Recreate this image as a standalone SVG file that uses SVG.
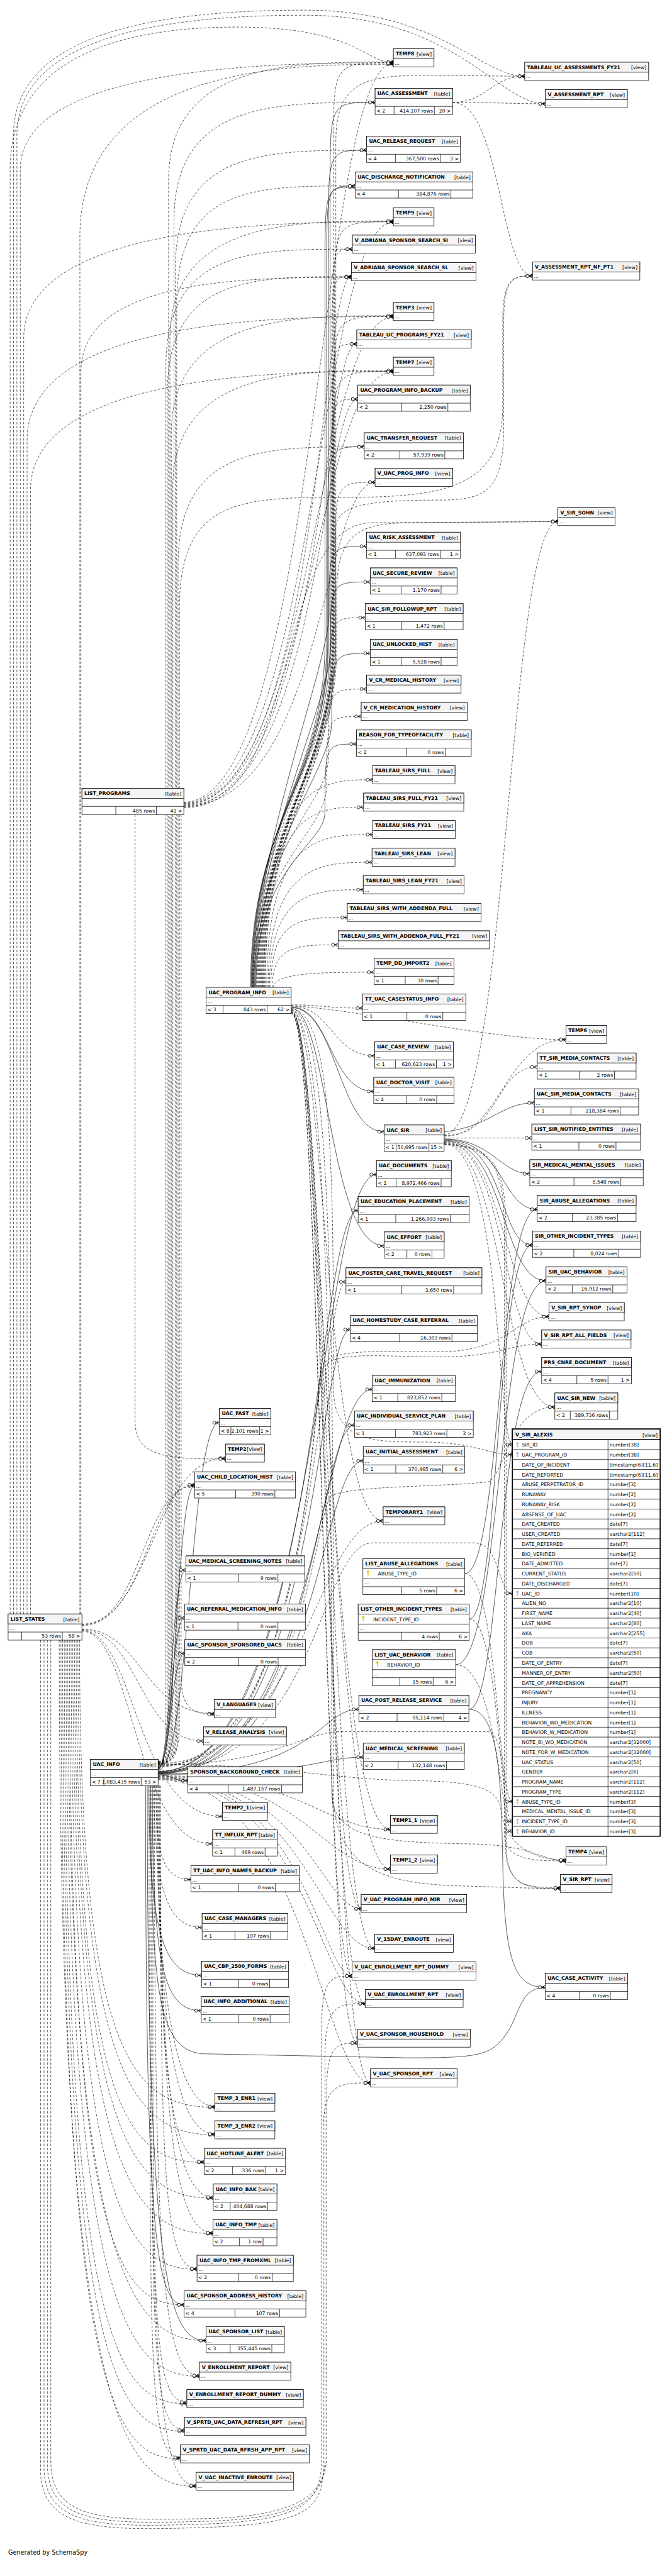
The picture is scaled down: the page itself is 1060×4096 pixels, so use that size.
<svg xmlns="http://www.w3.org/2000/svg" xmlns:xlink="http://www.w3.org/1999/xlink" width="1060" height="4096" viewBox="0 0 1060 4096">
<style>
.b{fill:#fff;stroke:#000;stroke-width:1.4}
.h{fill:#f4f4f4;stroke:#000;stroke-width:1.4}
.l{fill:none;stroke:#000;stroke-width:1.4}
.n{font-family:"DejaVu Sans",sans-serif;font-weight:bold;font-size:14.5px;fill:#000}
.t{font-family:"DejaVu Sans",sans-serif;font-size:14.5px;fill:#000}
.r{text-anchor:end}
.e{fill:none;stroke:#000;stroke-width:1.2;marker-end:url(#m)}
.d{stroke-dasharray:7 5}
</style>
<defs>
<marker id="m" viewBox="-24 -8 26 16" refX="0" refY="0" markerWidth="26" markerHeight="16" markerUnits="userSpaceOnUse" orient="auto">
<path d="M-10 0L0-5.5M-10 0H0M-10 0L0 5.5" fill="none" stroke="#000" stroke-width="1.5"/>
<circle cx="-15" cy="0" r="4.5" fill="#fff" stroke="#000" stroke-width="1.5"/>
</marker>
<g id="ky"><circle cx="0" cy="-4" r="3.6" stroke="none"/><path d="M0-1V8M0 4H3M0 7H2.5" fill="none" stroke-width="2"/></g>
</defs>
<rect width="1060" height="4096" fill="#fff"/>
<g transform="scale(0.538)">
<g id="connectors">
<path class="e" d="M740 2918C740 2400 975 2300 975 1900L975 552.5C975 302.5 975 302.5 1108 302.5"/>
<path class="e" d="M742 2918C742 2400 970 2300 970 1900L970 694C970 444 970 444 1083 444"/>
<path class="e" d="M744 2918C744 2400 965 2300 965 1900L965 799.5C965 549.5 965 549.5 1049 549.5"/>
<path class="e" d="M746 2918C746 2400 960 2300 960 1900L960 803C960 553 960 553 1049 553"/>
<path class="e" d="M748 2918C748 2400 968 2300 968 1900L968 1570.5C968 1320.5 968 1320.5 1076 1320.5"/>
<path class="e" d="M750 2918C750 2500 972 1964.5 972 1814.5C972 1614.5 972 1614.5 1083 1614.5"/>
<path class="e" d="M752 2918C752 2500 976 2070 976 1920C976 1720 976 1720 1094 1720"/>
<path class="e" d="M754 2918C754 2500 980 2281 980 2131C980 1931 980 1931 1094 1931"/>
<path class="e" d="M756 2918C756 2550 960 2500 960 2400C960 2199 960 2199 1053 2199"/>
<path class="e d" d="M758 2918C758 2400 985 2300 985 1900L985 435.5C985 185.5 985 185.5 1162 185.5"/>
<path class="e d" d="M760 2918C760 2400 992 2300 992 1900L992 420C992 222 1100 222 1300 223L1550 225.5"/>
<path class="e d" d="M762 2918C762 2400 988 2300 988 1900L988 905.5C988 655.5 988 655.5 1162 655.5"/>
<path class="e d" d="M764 2918C764 2400 983 2300 983 1900L983 986.5C983 736.5 983 736.5 1041 736.5"/>
<path class="e d" d="M766 2918C766 2400 980 2300 980 1900L980 1067.5C980 817.5 980 817.5 1038 817.5"/>
<path class="e d" d="M768 2918C768 2400 986 2300 986 1900L986 1185.5C986 935.5 986 935.5 1162 935.5"/>
<path class="e d" d="M770 2918C770 2400 982 2300 982 1900L982 1266.5C982 1016.5 982 1016.5 1054 1016.5"/>
<path class="e d" d="M772 2918C772 2400 984 2300 984 1900L984 1347.5C984 1097.5 984 1097.5 1162 1097.5"/>
<path class="e d" d="M774 2918C774 2400 978 2300 978 1900L978 1429.5C978 1179.5 978 1179.5 1057 1179.5"/>
<path class="e d" d="M776 2918C776 2400 990 2300 990 1900L990 1675.5C990 1425.5 990 1425.5 1108 1425.5"/>
<path class="e d" d="M778 2918C778 2400 995 2300 995 1900L995 1745C995 1545 1100 1545 1250 1545L1648 1541.5"/>
<path class="e d" d="M745 2918C745 2500 975 2175.5 975 2025.5C975 1825.5 975 1825.5 1079 1825.5"/>
<path class="e d" d="M747 2918C747 2500 970 2386.5 970 2236.5C970 2036.5 970 2036.5 1083 2036.5"/>
<path class="e d" d="M749 2918C749 2550 965 2467.5 965 2317.5C965 2117.5 965 2117.5 1067 2117.5"/>
<path class="e d" d="M780 2918C780 2304.5 950 2304.5 1101 2304.5"/>
<path class="e d" d="M784 2918C784 2385.5 930 2385.5 1074 2385.5"/>
<path class="e d" d="M788 2918C788 2466.5 950 2466.5 1101 2466.5"/>
<path class="e d" d="M792 2918C792 2548.5 950 2548.5 1099 2548.5"/>
<path class="e d" d="M796 2918C796 2629.5 930 2629.5 1073 2629.5"/>
<path class="e d" d="M800 2918C800 2711.5 890 2711.5 1026 2711.5"/>
<path class="e d" d="M804 2918C804 2792.5 880 2792.5 999 2792.5"/>
<path class="e d" d="M808 2918C808 2873.5 960 2873.5 1105 2873.5"/>
<path class="e d" d="M782 2918C782 2400 992 2300 992 1900L992 1560C992 1490 1100 1478 1300 1478C1450 1478 1488 1440 1488 1250L1488 950C1488 815.5 1520 815.5 1573 815.5"/>
<path class="e d" d="M1337 302.5C1460 302.5 1500 306.5 1611 306.5"/>
<path class="e d" d="M1337 302.5C1440 302.5 1450 225.5 1550 225.5"/>
<path class="e d" d="M1337 302.5C1480 302.5 1478 815.5 1573 815.5"/>
<path class="e d" d="M40 4770L40 400C40 120 400 30 900 30C1300 30 1420 225.5 1550 225.5"/>
<path class="e d" d="M50 4770L50 400C50 130 420 45 900 45C1350 45 1470 306.5 1611 306.5"/>
<path class="e d" d="M30 4770L30 500C30 200 300 80 700 80C1050 80 1080 185.5 1162 185.5"/>
<path class="e d" d="M860 2970C960 2970 960 2979.5 1071 2979.5"/>
<path class="e d" d="M860 2972C1100 2990 1450 3072.5 1672 3072.5"/>
<path class="e d" d="M860 2974C980 2974 980 3120.5 1107 3120.5"/>
<path class="e" d="M860 2976C975 2976 975 3225.5 1104 3225.5"/>
<path class="e" d="M860 2978C995 2978 1000 3345 1135 3345"/>
<path class="e" d="M860 2980C970 2980 970 3682.5 1135 3682.5"/>
<path class="e d" d="M860 2982C985 2982 985 3500 985 4100C985 4262 1100 4262 1250 4262C1400 4262 1440 4299 1513.5 4299"/>
<path class="e d" d="M860 2984C960 2984 960 4495 1132 4495"/>
<path class="e d" d="M860 2986C958 2986 958 5406.5 1153.5 5406.5"/>
<path class="e d" d="M860 2988C962 2988 962 5524 1153.5 5524"/>
<path class="e d" d="M860 2990C955 2990 955 5641 1067 5641"/>
<path class="e d" d="M860 2991C965 2991 965 5758.5 1107 5758.5"/>
<path class="e d" d="M860 2992C950 2992 950 5840 1040 5840"/>
<path class="e d" d="M860 2993C960 2993 960 5921.5 1079 5921.5"/>
<path class="e d" d="M860 2994C952 2994 952 6038.5 1056 6038.5"/>
<path class="e d" d="M860 2995C968 2995 968 6156 1094.5 6156"/>
<path class="e d" d="M860 2985C985 2985 985 4000 985 5300C985 5560 1200 5570 1400 5575C1550 5580 1600 5581.5 1655.5 5581.5"/>
<path class="e d" d="M860 2987C980 2987 980 4500 980 5300C980 5440 1150 5445 1400 5450C1580 5455 1600 5500 1672 5500"/>
<path class="e d" d="M1312 3356C1480 3356 1460 3153.5 1587 3153.5"/>
<path class="e" d="M1312 3345C1450 3330 1480 3259.5 1578.5 3259.5"/>
<path class="e d" d="M1312 3363.5L1571 3363.5"/>
<path class="e" d="M1312 3366C1450 3366 1480 3469 1565 3469"/>
<path class="e" d="M1312 3368C1490 3368 1480 3574.5 1587 3574.5"/>
<path class="e" d="M1312 3370C1500 3370 1470 3680 1573 3680"/>
<path class="e" d="M1312 3372C1495 3372 1480 3785.5 1613 3785.5"/>
<path class="e d" d="M1312 3374C1490 3374 1490 3891.5 1621.5 3891.5"/>
<path class="e d" d="M1312 3376C1495 3376 1485 3972.5 1600 3972.5"/>
<path class="e d" d="M1312 3378C1490 3378 1480 4158.5 1639 4158.5"/>
<path class="e d" d="M1312 3380C1480 3380 1470 4269.6 1513.5 4269.6"/>
<path class="e d" d="M1312 3358C1480 3358 1490 3072.5 1672 3072.5"/>
<path class="e d" d="M1312 3354C1500 3354 1500 1541.5 1648 1541.5"/>
<path class="e d" d="M1312 3382C1495 3382 1495 3500 1495 3700L1495 5450C1495 5581.5 1560 5581.5 1655.5 5581.5"/>
<path class="e d" d="M1312 3384C1490 3384 1490 3500 1490 3700L1490 5420C1490 5500 1580 5500 1672 5500"/>
<path class="e" d="M1373 4651C1480 4651 1470 3574.5 1587 3574.5"/>
<path class="e d" d="M1373 4651C1470 4651 1470 5324.5 1513.5 5324.5"/>
<path class="e" d="M1386 4785C1475 4785 1465 3680 1573 3680"/>
<path class="e d" d="M1386 4785C1475 4785 1475 5383 1513.5 5383"/>
<path class="e" d="M1346 4920C1480 4920 1470 3785.5 1613 3785.5"/>
<path class="e d" d="M1346 4920C1470 4920 1480 5412.4 1513.5 5412.4"/>
<path class="e" d="M1385 5051.5C1480 5051.5 1470 4053.5 1600 4053.5"/>
<path class="e" d="M1385 5051.5C1480 5051.5 1480 5300 1485 5500C1490 5800 1520 5873.5 1610.5 5873.5"/>
<path class="e" d="M467 5236C940 5236 940 3471.5 1112 3471.5"/>
<path class="e" d="M467 5237C935 5237 935 3577.5 1058 3577.5"/>
<path class="e d" d="M467 5238C945 5238 945 3788.5 1022 3788.5"/>
<path class="e" d="M467 5239C938 5239 938 3929.5 1035 3929.5"/>
<path class="e" d="M467 5240C942 5240 942 4106.5 1099.5 4106.5"/>
<path class="e" d="M467 5241C936 5241 936 4212 1047 4212"/>
<path class="e" d="M467 5242C944 5242 944 4317.5 1073 4317.5"/>
<path class="e" d="M467 5243C940 5243 940 5052 1060 5052"/>
<path class="e" d="M467 5244C938 5244 938 5193.5 1073 5193.5"/>
<path class="e d" d="M467 5234C940 5234 940 4560 1100 4560L1400 4560C1480 4560 1470 4709 1513.5 4709"/>
<path class="e" d="M467 5232C560 5232 560 4204.5 648 4204.5"/>
<path class="e" d="M467 5230C520 5230 520 4391.5 575 4391.5"/>
<path class="e" d="M467 5228C505 5228 505 4640 549 4640"/>
<path class="e" d="M467 5226C505 5226 505 4782 545 4782"/>
<path class="e" d="M467 5224C505 5224 505 4887 546 4887"/>
<path class="e" d="M467 5246C510 5246 510 5263 555 5263"/>
<path class="e" d="M440 5277.5C440 5700 480 5838 596 5838"/>
<path class="e" d="M450 5277.5C450 5800 480 5942.5 594.5 5942.5"/>
<path class="e" d="M430 5277.5C430 6600 460 6812 544 6812"/>
<path class="e" d="M435 5277.5C435 6750 500 6917.5 608.5 6917.5"/>
<path class="e" d="M445 5277.5C445 5900 470 6060 600 6070L1200 6082C1350 6082 1420 6080 1460 6050C1540 5990 1520 5873.5 1610.5 5873.5"/>
<path class="e d" d="M455 5277.5C455 5600 500 5696.5 597 5696.5"/>
<path class="e d" d="M460 5277.5C460 5480 480 5555 564 5555"/>
<path class="e d" d="M242 4800C450 4800 450 4309.5 666 4309.5"/>
<path class="e d" d="M242 4802C420 4802 420 4391.5 575 4391.5"/>
<path class="e d" d="M242 4804C430 4804 440 4388 575 4388"/>
<path class="e d" d="M242 4815C420 4815 420 5064.5 633 5064.5"/>
<path class="e d" d="M242 4817C410 4817 410 5145.5 601 5145.5"/>
<path class="e d" d="M242 4819C400 4819 400 5368.5 657 5368.5"/>
<path class="e d" d="M242 4821C395 4821 395 5449.5 628 5449.5"/>
<path class="e d" d="M235 4847.5C235 6100 400 6228 635 6228"/>
<path class="e d" d="M230 4847.5C230 6150 400 6309.5 635 6309.5"/>
<path class="e d" d="M225 4847.5C225 6250 380 6391 603 6391"/>
<path class="e d" d="M220 4847.5C220 6350 400 6496.5 630 6496.5"/>
<path class="e d" d="M215 4847.5C215 6450 400 6601.5 629 6601.5"/>
<path class="e d" d="M210 4847.5C210 6550 380 6707 582 6707"/>
<path class="e d" d="M205 4847.5C205 6650 350 6812 544 6812"/>
<path class="e d" d="M200 4847.5C200 6750 400 6917.5 608.5 6917.5"/>
<path class="e d" d="M195 4847.5C195 6850 380 7023 589 7023"/>
<path class="e d" d="M190 4847.5C190 6950 350 7104 552 7104"/>
<path class="e d" d="M185 4847.5C185 7030 350 7185.5 545 7185.5"/>
<path class="e d" d="M180 4847.5C180 7110 340 7267 533 7267"/>
<path class="e d" d="M175 4847.5C175 7190 380 7348.5 579.5 7348.5"/>
<path class="e d" d="M462 5277.5C462 5900 520 6226 635 6226"/>
<path class="e d" d="M465 5277.5C465 6000 520 6307 635 6307"/>
<path class="e d" d="M468 5277.5C468 6100 500 6389 603 6389"/>
<path class="e d" d="M470 5277.5C470 6200 520 6494 630 6494"/>
<path class="e d" d="M472 5277.5C472 6300 520 6599 629 6599"/>
<path class="e d" d="M474 5277.5C474 6400 480 6705 582 6705"/>
<path class="e d" d="M456 5277.5C456 6700 480 7021 589 7021"/>
<path class="e d" d="M452 5277.5C452 6800 440 7100 552 7100"/>
<path class="e d" d="M448 5277.5C448 6900 440 7182 545 7182"/>
<path class="e d" d="M444 5277.5C444 6950 430 7263 533 7263"/>
<path class="e d" d="M440 5277.5C440 7050 470 7346 579.5 7346"/>
<path class="e d" d="M120 4847.5L120 7300C120 7480 300 7480 600 7470C900 7460 950 7420 955 7300L955 6300C955 6156 1000 6156 1094.5 6156"/>
<path class="e d" d="M130 4847.5L130 7290C130 7470 300 7470 600 7460C890 7450 945 7400 950 7280L950 6000C950 5840 980 5840 1040 5840"/>
<path class="e d" d="M140 4847.5L140 7280C140 7460 300 7460 600 7452C880 7444 958 7390 960 7270L960 6080C960 5921.5 1000 5921.5 1079 5921.5"/>
<path class="e d" d="M150 4847.5L150 7270C150 7450 300 7450 600 7444C870 7438 962 7380 965 7260L965 6180C965 6038.5 1000 6038.5 1056 6038.5"/>
<path class="e d" d="M60 4770L60 500C60 185.5 862 185.5 1162 185.5"/>
<path class="e d" d="M70 4770L70 1000C70 655.5 862 655.5 1162 655.5"/>
<path class="e d" d="M80 4770L80 1300C80 935.5 862 935.5 1162 935.5"/>
<path class="e d" d="M90 4770L90 1450C90 1097.5 862 1097.5 1162 1097.5"/>
<path class="e d" d="M236 4770L236 700C236 190 862 190 1162 190"/>
<path class="e d" d="M239 4770L239 1100C239 820 738 820 1038 820"/>
<path class="e d" d="M467 5205C500 5205 490 5180 490 5100L490 1086.5C490 736.5 741 736.5 1041 736.5"/>
<path class="e d" d="M467 5206C500 5206 494 5180 494 5100L494 1167.5C494 817.5 738 817.5 1038 817.5"/>
<path class="e d" d="M467 5207C505 5207 498 5180 498 5100L498 533C498 183 862 183 1162 183"/>
<path class="e d" d="M467 5208C505 5208 502 5180 502 5100L502 1003C502 653 862 653 1162 653"/>
<path class="e d" d="M467 5209C505 5209 506 5180 506 5100L506 1283C506 933 862 933 1162 933"/>
<path class="e d" d="M467 5210C510 5210 510 5180 510 5100L510 1445C510 1095 862 1095 1162 1095"/>
<path class="e d" d="M467 5211C510 5211 514 5180 514 5100L514 652.5C514 302.5 808 302.5 1108 302.5"/>
<path class="e d" d="M467 5212C515 5212 518 5180 518 5100L518 794C518 444 783 444 1083 444"/>
<path class="e d" d="M467 5213C515 5213 522 5180 522 5100L522 899.5C522 549.5 749 549.5 1049 549.5"/>
<path class="e d" d="M467 5214C520 5214 526 5180 526 5100L526 1670.5C526 1320.5 776 1320.5 1076 1320.5"/>
<path class="e d" d="M467 5215C505 5215 530 5180 530 5100L530 1800C530 1480 700 1470 1000 1470C1300 1470 1485 1450 1485 1200L1485 950C1485 815.5 1520 815.5 1573 815.5"/>
<path class="e d" d="M399 2407.5L399 4200C399 4309.5 500 4312 666 4312"/>
<path class="e d" d="M535 2407.5L535 4950C535 5040 560 5067 633 5067"/>
<path class="e d" d="M543 2371C940 2371 940 187 1162 187"/>
<path class="e d" d="M543 2373C935 2373 935 657 1162 657"/>
<path class="e d" d="M543 2375C930 2375 930 937 1162 937"/>
<path class="e d" d="M543 2377C925 2377 925 1099 1162 1099"/>
<path class="e d" d="M543 2379C945 2379 945 819 1038 819"/>
<path class="e d" d="M543 2381C950 2381 950 1179.5 1057 1179.5"/>
<path class="e d" d="M543 2383C955 2383 955 1425.5 1108 1425.5"/>
<path class="e d" d="M543 2385C950 2385 950 1016.5 1054 1016.5"/>
<path class="e d" d="M543 2387C900 2387 800 1545 1100 1545L1648 1541.5"/>
<path class="e d" d="M467 5222C900 5222 930 4100 950 4050C980 3990 1100 4010 1300 4010C1480 4010 1500 3972.5 1600 3972.5"/>
<path class="e d" d="M467 5220C900 5220 930 4090 950 4040C975 3985 1100 3995 1300 3995C1500 3995 1520 3891.5 1621.5 3891.5"/>
<path class="e d" d="M467 5218C900 5218 930 4450 980 4420C1050 4390 1300 4395 1440 4380C1490 4370 1500 4158.5 1639 4158.5"/>
<path class="e d" d="M467 5216C800 5216 900 5120 1000 5118L1440 5118C1490 5118 1493 5300 1493 5450C1493 5579 1560 5579 1655.5 5579"/>
<path class="e d" d="M467 5214C800 5214 1000 5260 1200 5262C1400 5265 1470 5280 1480 5350C1490 5440 1560 5497 1672 5497"/>
<path class="e d" d="M467 5248C900 5248 950 5406.5 1153.5 5406.5"/>
<path class="e d" d="M467 5250C900 5250 950 5524 1153.5 5524"/>
<path class="e d" d="M467 5212C900 5212 930 4495 1132 4495"/>
<path class="e d" d="M467 5252C900 5252 950 5641 1067 5641"/>
<path class="e d" d="M467 5254C900 5254 950 5758.5 1107 5758.5"/>
<path class="e d" d="M467 5256C900 5256 950 5840 1040 5840"/>
<path class="e d" d="M467 5258C900 5258 950 5921.5 1079 5921.5"/>
<path class="e d" d="M467 5260C900 5260 955 6156 1094.5 6156"/>
</g>
<g id="nodes">
<g id="TEMP8" transform="translate(1162,144)"><rect class="b" width="120" height="53.5"/><rect class="h" width="120" height="29.5"/><text class="n" x="7" y="20">TEMP8</text><text class="t r" x="113" y="21">[view]</text><text class="t" x="4" y="47">...</text></g>
<g id="TABLEAU_UC_ASSESSMENTS_FY21" transform="translate(1550,184)"><rect class="b" width="366" height="53.5"/><rect class="h" width="366" height="29.5"/><text class="n" x="7" y="20">TABLEAU_UC_ASSESSMENTS_FY21</text><text class="t r" x="359" y="21">[view]</text><text class="t" x="4" y="47">...</text></g>
<g id="UAC_ASSESSMENT" transform="translate(1108,261)"><rect class="b" width="229" height="77.5"/><rect class="h" width="229" height="29.5"/><path class="l" d="M0 53.5H229M56 53.5V77.5M175 53.5V77.5"/><text class="n" x="7" y="20">UAC_ASSESSMENT</text><text class="t r" x="222" y="21">[table]</text><text class="t" x="4" y="47">...</text><text class="t" x="4" y="71">&lt; 2</text><text class="t r" x="171" y="71">414,107 rows</text><text class="t r" x="224" y="71">20 &gt;</text></g>
<g id="V_ASSESSMENT_RPT" transform="translate(1611,265)"><rect class="b" width="242" height="53.5"/><rect class="h" width="242" height="29.5"/><text class="n" x="7" y="20">V_ASSESSMENT_RPT</text><text class="t r" x="235" y="21">[view]</text><text class="t" x="4" y="47">...</text></g>
<g id="UAC_RELEASE_REQUEST" transform="translate(1083,402.5)"><rect class="b" width="277" height="77.5"/><rect class="h" width="277" height="29.5"/><path class="l" d="M0 53.5H277M85 53.5V77.5M218 53.5V77.5"/><text class="n" x="7" y="20">UAC_RELEASE_REQUEST</text><text class="t r" x="270" y="21">[table]</text><text class="t" x="4" y="47">...</text><text class="t" x="4" y="71">&lt; 4</text><text class="t r" x="214" y="71">367,500 rows</text><text class="t r" x="272" y="71">3 &gt;</text></g>
<g id="UAC_DISCHARGE_NOTIFICATION" transform="translate(1049,508)"><rect class="b" width="348" height="77.5"/><rect class="h" width="348" height="29.5"/><path class="l" d="M0 53.5H348M128 53.5V77.5M283 53.5V77.5"/><text class="n" x="7" y="20">UAC_DISCHARGE_NOTIFICATION</text><text class="t r" x="341" y="21">[table]</text><text class="t" x="4" y="47">...</text><text class="t" x="4" y="71">&lt; 4</text><text class="t r" x="279" y="71">384,876 rows</text></g>
<g id="TEMP9" transform="translate(1162,614)"><rect class="b" width="120" height="53.5"/><rect class="h" width="120" height="29.5"/><text class="n" x="7" y="20">TEMP9</text><text class="t r" x="113" y="21">[view]</text><text class="t" x="4" y="47">...</text></g>
<g id="V_ADRIANA_SPONSOR_SEARCH_SI" transform="translate(1041,695)"><rect class="b" width="363" height="53.5"/><rect class="h" width="363" height="29.5"/><text class="n" x="7" y="20">V_ADRIANA_SPONSOR_SEARCH_SI</text><text class="t r" x="356" y="21">[view]</text><text class="t" x="4" y="47">...</text></g>
<g id="V_ADRIANA_SPONSOR_SEARCH_SL" transform="translate(1038,776)"><rect class="b" width="368" height="53.5"/><rect class="h" width="368" height="29.5"/><text class="n" x="7" y="20">V_ADRIANA_SPONSOR_SEARCH_SL</text><text class="t r" x="361" y="21">[view]</text><text class="t" x="4" y="47">...</text></g>
<g id="V_ASSESSMENT_RPT_NF_PT1" transform="translate(1573,774)"><rect class="b" width="317" height="53.5"/><rect class="h" width="317" height="29.5"/><text class="n" x="7" y="20">V_ASSESSMENT_RPT_NF_PT1</text><text class="t r" x="310" y="21">[view]</text><text class="t" x="4" y="47">...</text></g>
<g id="TEMP3" transform="translate(1162,894)"><rect class="b" width="120" height="53.5"/><rect class="h" width="120" height="29.5"/><text class="n" x="7" y="20">TEMP3</text><text class="t r" x="113" y="21">[view]</text><text class="t" x="4" y="47">...</text></g>
<g id="TABLEAU_UC_PROGRAMS_FY21" transform="translate(1054,975)"><rect class="b" width="338" height="53.5"/><rect class="h" width="338" height="29.5"/><text class="n" x="7" y="20">TABLEAU_UC_PROGRAMS_FY21</text><text class="t r" x="331" y="21">[view]</text><text class="t" x="4" y="47">...</text></g>
<g id="TEMP7" transform="translate(1162,1056)"><rect class="b" width="120" height="53.5"/><rect class="h" width="120" height="29.5"/><text class="n" x="7" y="20">TEMP7</text><text class="t r" x="113" y="21">[view]</text><text class="t" x="4" y="47">...</text></g>
<g id="UAC_PROGRAM_INFO_BACKUP" transform="translate(1057,1138)"><rect class="b" width="332" height="77.5"/><rect class="h" width="332" height="29.5"/><path class="l" d="M0 53.5H332M130 53.5V77.5M266 53.5V77.5"/><text class="n" x="7" y="20">UAC_PROGRAM_INFO_BACKUP</text><text class="t r" x="325" y="21">[table]</text><text class="t" x="4" y="47">...</text><text class="t" x="4" y="71">&lt; 2</text><text class="t r" x="262" y="71">2,250 rows</text></g>
<g id="UAC_TRANSFER_REQUEST" transform="translate(1076,1279)"><rect class="b" width="293" height="77.5"/><rect class="h" width="293" height="29.5"/><path class="l" d="M0 53.5H293M105 53.5V77.5M238 53.5V77.5"/><text class="n" x="7" y="20">UAC_TRANSFER_REQUEST</text><text class="t r" x="286" y="21">[table]</text><text class="t" x="4" y="47">...</text><text class="t" x="4" y="71">&lt; 2</text><text class="t r" x="234" y="71">57,939 rows</text></g>
<g id="V_UAC_PROG_INFO" transform="translate(1108,1384)"><rect class="b" width="229" height="53.5"/><rect class="h" width="229" height="29.5"/><text class="n" x="7" y="20">V_UAC_PROG_INFO</text><text class="t r" x="222" y="21">[view]</text><text class="t" x="4" y="47">...</text></g>
<g id="V_SIR_SOHN" transform="translate(1648,1500)"><rect class="b" width="169" height="53.5"/><rect class="h" width="169" height="29.5"/><text class="n" x="7" y="20">V_SIR_SOHN</text><text class="t r" x="162" y="21">[view]</text><text class="t" x="4" y="47">...</text></g>
<g id="UAC_RISK_ASSESSMENT" transform="translate(1083,1573)"><rect class="b" width="277" height="77.5"/><rect class="h" width="277" height="29.5"/><path class="l" d="M0 53.5H277M85 53.5V77.5M218 53.5V77.5"/><text class="n" x="7" y="20">UAC_RISK_ASSESSMENT</text><text class="t r" x="270" y="21">[table]</text><text class="t" x="4" y="47">...</text><text class="t" x="4" y="71">&lt; 1</text><text class="t r" x="214" y="71">637,093 rows</text><text class="t r" x="272" y="71">1 &gt;</text></g>
<g id="UAC_SECURE_REVIEW" transform="translate(1094,1678.5)"><rect class="b" width="256" height="77.5"/><rect class="h" width="256" height="29.5"/><path class="l" d="M0 53.5H256M91 53.5V77.5M209 53.5V77.5"/><text class="n" x="7" y="20">UAC_SECURE_REVIEW</text><text class="t r" x="249" y="21">[table]</text><text class="t" x="4" y="47">...</text><text class="t" x="4" y="71">&lt; 1</text><text class="t r" x="205" y="71">1,170 rows</text></g>
<g id="UAC_SIR_FOLLOWUP_RPT" transform="translate(1079,1784)"><rect class="b" width="289" height="77.5"/><rect class="h" width="289" height="29.5"/><path class="l" d="M0 53.5H289M108 53.5V77.5M233 53.5V77.5"/><text class="n" x="7" y="20">UAC_SIR_FOLLOWUP_RPT</text><text class="t r" x="282" y="21">[table]</text><text class="t" x="4" y="47">...</text><text class="t" x="4" y="71">&lt; 1</text><text class="t r" x="229" y="71">1,472 rows</text></g>
<g id="UAC_UNLOCKED_HIST" transform="translate(1094,1889.5)"><rect class="b" width="256" height="77.5"/><rect class="h" width="256" height="29.5"/><path class="l" d="M0 53.5H256M91 53.5V77.5M209 53.5V77.5"/><text class="n" x="7" y="20">UAC_UNLOCKED_HIST</text><text class="t r" x="249" y="21">[table]</text><text class="t" x="4" y="47">...</text><text class="t" x="4" y="71">&lt; 1</text><text class="t r" x="205" y="71">5,528 rows</text></g>
<g id="V_CR_MEDICAL_HISTORY" transform="translate(1083,1995)"><rect class="b" width="279" height="53.5"/><rect class="h" width="279" height="29.5"/><text class="n" x="7" y="20">V_CR_MEDICAL_HISTORY</text><text class="t r" x="272" y="21">[view]</text><text class="t" x="4" y="47">...</text></g>
<g id="V_CR_MEDICATION_HISTORY" transform="translate(1067,2076)"><rect class="b" width="313" height="53.5"/><rect class="h" width="313" height="29.5"/><text class="n" x="7" y="20">V_CR_MEDICATION_HISTORY</text><text class="t r" x="306" y="21">[view]</text><text class="t" x="4" y="47">...</text></g>
<g id="REASON_FOR_TYPEOFFACILITY" transform="translate(1053,2157.5)"><rect class="b" width="339" height="77.5"/><rect class="h" width="339" height="29.5"/><path class="l" d="M0 53.5H339M148 53.5V77.5M262 53.5V77.5"/><text class="n" x="7" y="20">REASON_FOR_TYPEOFFACILITY</text><text class="t r" x="332" y="21">[table]</text><text class="t" x="4" y="47">...</text><text class="t" x="4" y="71">&lt; 2</text><text class="t r" x="258" y="71">0 rows</text></g>
<g id="TABLEAU_SIRS_FULL" transform="translate(1101,2263)"><rect class="b" width="243" height="53.5"/><rect class="h" width="243" height="29.5"/><text class="n" x="7" y="20">TABLEAU_SIRS_FULL</text><text class="t r" x="236" y="21">[view]</text><text class="t" x="4" y="47">...</text></g>
<g id="TABLEAU_SIRS_FULL_FY21" transform="translate(1074,2344)"><rect class="b" width="296" height="53.5"/><rect class="h" width="296" height="29.5"/><text class="n" x="7" y="20">TABLEAU_SIRS_FULL_FY21</text><text class="t r" x="289" y="21">[view]</text><text class="t" x="4" y="47">...</text></g>
<g id="TABLEAU_SIRS_FY21" transform="translate(1101,2425)"><rect class="b" width="244" height="53.5"/><rect class="h" width="244" height="29.5"/><text class="n" x="7" y="20">TABLEAU_SIRS_FY21</text><text class="t r" x="237" y="21">[view]</text><text class="t" x="4" y="47">...</text></g>
<g id="TABLEAU_SIRS_LEAN" transform="translate(1099,2507)"><rect class="b" width="245" height="53.5"/><rect class="h" width="245" height="29.5"/><text class="n" x="7" y="20">TABLEAU_SIRS_LEAN</text><text class="t r" x="238" y="21">[view]</text><text class="t" x="4" y="47">...</text></g>
<g id="TABLEAU_SIRS_LEAN_FY21" transform="translate(1073,2588)"><rect class="b" width="298" height="53.5"/><rect class="h" width="298" height="29.5"/><text class="n" x="7" y="20">TABLEAU_SIRS_LEAN_FY21</text><text class="t r" x="291" y="21">[view]</text><text class="t" x="4" y="47">...</text></g>
<g id="TABLEAU_SIRS_WITH_ADDENDA_FULL" transform="translate(1026,2670)"><rect class="b" width="395" height="53.5"/><rect class="h" width="395" height="29.5"/><text class="n" x="7" y="20">TABLEAU_SIRS_WITH_ADDENDA_FULL</text><text class="t r" x="388" y="21">[view]</text><text class="t" x="4" y="47">...</text></g>
<g id="TABLEAU_SIRS_WITH_ADDENDA_FULL_FY21" transform="translate(999,2751)"><rect class="b" width="447" height="53.5"/><rect class="h" width="447" height="29.5"/><text class="n" x="7" y="20">TABLEAU_SIRS_WITH_ADDENDA_FULL_FY21</text><text class="t r" x="440" y="21">[view]</text><text class="t" x="4" y="47">...</text></g>
<g id="TEMP_DD_IMPORT2" transform="translate(1105,2832)"><rect class="b" width="236" height="77.5"/><rect class="h" width="236" height="29.5"/><path class="l" d="M0 53.5H236M92 53.5V77.5M189 53.5V77.5"/><text class="n" x="7" y="20">TEMP_DD_IMPORT2</text><text class="t r" x="229" y="21">[table]</text><text class="t" x="4" y="47">...</text><text class="t" x="4" y="71">&lt; 1</text><text class="t r" x="185" y="71">30 rows</text></g>
<g id="TT_UAC_CASESTATUS_INFO" transform="translate(1071,2938)"><rect class="b" width="305" height="77.5"/><rect class="h" width="305" height="29.5"/><path class="l" d="M0 53.5H305M131 53.5V77.5M237 53.5V77.5"/><text class="n" x="7" y="20">TT_UAC_CASESTATUS_INFO</text><text class="t r" x="298" y="21">[table]</text><text class="t" x="4" y="47">...</text><text class="t" x="4" y="71">&lt; 1</text><text class="t r" x="233" y="71">0 rows</text></g>
<g id="TEMP6" transform="translate(1672,3031)"><rect class="b" width="120" height="53.5"/><rect class="h" width="120" height="29.5"/><text class="n" x="7" y="20">TEMP6</text><text class="t r" x="113" y="21">[view]</text><text class="t" x="4" y="47">...</text></g>
<g id="UAC_CASE_REVIEW" transform="translate(1107,3079)"><rect class="b" width="232" height="77.5"/><rect class="h" width="232" height="29.5"/><path class="l" d="M0 53.5H232M61 53.5V77.5M182 53.5V77.5"/><text class="n" x="7" y="20">UAC_CASE_REVIEW</text><text class="t r" x="225" y="21">[table]</text><text class="t" x="4" y="47">...</text><text class="t" x="4" y="71">&lt; 1</text><text class="t r" x="178" y="71">620,623 rows</text><text class="t r" x="227" y="71">1 &gt;</text></g>
<g id="TT_SIR_MEDIA_CONTACTS" transform="translate(1587,3112)"><rect class="b" width="292" height="77.5"/><rect class="h" width="292" height="29.5"/><path class="l" d="M0 53.5H292M124.5 53.5V77.5M228 53.5V77.5"/><text class="n" x="7" y="20">TT_SIR_MEDIA_CONTACTS</text><text class="t r" x="285" y="21">[table]</text><text class="t" x="4" y="47">...</text><text class="t" x="4" y="71">&lt; 1</text><text class="t r" x="224" y="71">2 rows</text></g>
<g id="UAC_DOCTOR_VISIT" transform="translate(1104,3184)"><rect class="b" width="237" height="77.5"/><rect class="h" width="237" height="29.5"/><path class="l" d="M0 53.5H237M97 53.5V77.5M186 53.5V77.5"/><text class="n" x="7" y="20">UAC_DOCTOR_VISIT</text><text class="t r" x="230" y="21">[table]</text><text class="t" x="4" y="47">...</text><text class="t" x="4" y="71">&lt; 4</text><text class="t r" x="182" y="71">0 rows</text></g>
<g id="UAC_SIR_MEDIA_CONTACTS" transform="translate(1578.5,3218)"><rect class="b" width="308" height="77.5"/><rect class="h" width="308" height="29.5"/><path class="l" d="M0 53.5H308M108 53.5V77.5M253.5 53.5V77.5"/><text class="n" x="7" y="20">UAC_SIR_MEDIA_CONTACTS</text><text class="t r" x="301" y="21">[table]</text><text class="t" x="4" y="47">...</text><text class="t" x="4" y="71">&lt; 1</text><text class="t r" x="249.5" y="71">218,384 rows</text></g>
<g id="UAC_SIR" transform="translate(1135,3325)"><rect class="b" width="177" height="77.5"/><rect class="h" width="177" height="29.5"/><path class="l" d="M0 53.5H177M35 53.5V77.5M132 53.5V77.5"/><text class="n" x="7" y="20">UAC_SIR</text><text class="t r" x="170" y="21">[table]</text><text class="t" x="4" y="47">...</text><text class="t" x="4" y="71">&lt; 1</text><text class="t r" x="128" y="71">50,695 rows</text><text class="t r" x="172" y="71">15 &gt;</text></g>
<g id="LIST_SIR_NOTIFIED_ENTITIES" transform="translate(1571,3322)"><rect class="b" width="321" height="77.5"/><rect class="h" width="321" height="29.5"/><path class="l" d="M0 53.5H321M139 53.5V77.5M248.5 53.5V77.5"/><text class="n" x="7" y="20">LIST_SIR_NOTIFIED_ENTITIES</text><text class="t r" x="314" y="21">[table]</text><text class="t" x="4" y="47">...</text><text class="t" x="4" y="71">&lt; 1</text><text class="t r" x="244.5" y="71">0 rows</text></g>
<g id="UAC_DOCUMENTS" transform="translate(1112,3430)"><rect class="b" width="221" height="77.5"/><rect class="h" width="221" height="29.5"/><path class="l" d="M0 53.5H221M58 53.5V77.5M191 53.5V77.5"/><text class="n" x="7" y="20">UAC_DOCUMENTS</text><text class="t r" x="214" y="21">[table]</text><text class="t" x="4" y="47">...</text><text class="t" x="4" y="71">&lt; 1</text><text class="t r" x="187" y="71">8,972,466 rows</text></g>
<g id="SIR_MEDICAL_MENTAL_ISSUES" transform="translate(1565,3427.5)"><rect class="b" width="335" height="77.5"/><rect class="h" width="335" height="29.5"/><path class="l" d="M0 53.5H335M130.5 53.5V77.5M269 53.5V77.5"/><text class="n" x="7" y="20">SIR_MEDICAL_MENTAL_ISSUES</text><text class="t r" x="328" y="21">[table]</text><text class="t" x="4" y="47">...</text><text class="t" x="4" y="71">&lt; 2</text><text class="t r" x="265" y="71">8,548 rows</text></g>
<g id="UAC_EDUCATION_PLACEMENT" transform="translate(1058,3536)"><rect class="b" width="328" height="77.5"/><rect class="h" width="328" height="29.5"/><path class="l" d="M0 53.5H328M111 53.5V77.5M272 53.5V77.5"/><text class="n" x="7" y="20">UAC_EDUCATION_PLACEMENT</text><text class="t r" x="321" y="21">[table]</text><text class="t" x="4" y="47">...</text><text class="t" x="4" y="71">&lt; 1</text><text class="t r" x="268" y="71">1,266,993 rows</text></g>
<g id="SIR_ABUSE_ALLEGATIONS" transform="translate(1587,3533)"><rect class="b" width="292" height="77.5"/><rect class="h" width="292" height="29.5"/><path class="l" d="M0 53.5H292M104 53.5V77.5M237 53.5V77.5"/><text class="n" x="7" y="20">SIR_ABUSE_ALLEGATIONS</text><text class="t r" x="285" y="21">[table]</text><text class="t" x="4" y="47">...</text><text class="t" x="4" y="71">&lt; 2</text><text class="t r" x="233" y="71">23,385 rows</text></g>
<g id="UAC_EFFORT" transform="translate(1135,3641)"><rect class="b" width="177" height="77.5"/><rect class="h" width="177" height="29.5"/><path class="l" d="M0 53.5H177M67 53.5V77.5M141 53.5V77.5"/><text class="n" x="7" y="20">UAC_EFFORT</text><text class="t r" x="170" y="21">[table]</text><text class="t" x="4" y="47">...</text><text class="t" x="4" y="71">&lt; 2</text><text class="t r" x="137" y="71">0 rows</text></g>
<g id="SIR_OTHER_INCIDENT_TYPES" transform="translate(1573,3638.5)"><rect class="b" width="319" height="77.5"/><rect class="h" width="319" height="29.5"/><path class="l" d="M0 53.5H319M122 53.5V77.5M255 53.5V77.5"/><text class="n" x="7" y="20">SIR_OTHER_INCIDENT_TYPES</text><text class="t r" x="312" y="21">[table]</text><text class="t" x="4" y="47">...</text><text class="t" x="4" y="71">&lt; 2</text><text class="t r" x="251" y="71">8,024 rows</text></g>
<g id="UAC_FOSTER_CARE_TRAVEL_REQUEST" transform="translate(1022,3747)"><rect class="b" width="401.5" height="77.5"/><rect class="h" width="401.5" height="29.5"/><path class="l" d="M0 53.5H401.5M165 53.5V77.5M318 53.5V77.5"/><text class="n" x="7" y="20">UAC_FOSTER_CARE_TRAVEL_REQUEST</text><text class="t r" x="394.5" y="21">[table]</text><text class="t" x="4" y="47">...</text><text class="t" x="4" y="71">&lt; 1</text><text class="t r" x="314" y="71">3,650 rows</text></g>
<g id="SIR_UAC_BEHAVIOR" transform="translate(1613,3744)"><rect class="b" width="239" height="77.5"/><rect class="h" width="239" height="29.5"/><path class="l" d="M0 53.5H239M78 53.5V77.5M197 53.5V77.5"/><text class="n" x="7" y="20">SIR_UAC_BEHAVIOR</text><text class="t r" x="232" y="21">[table]</text><text class="t" x="4" y="47">...</text><text class="t" x="4" y="71">&lt; 2</text><text class="t r" x="193" y="71">16,912 rows</text></g>
<g id="V_SIR_RPT_SYNOP" transform="translate(1621.5,3850)"><rect class="b" width="222.5" height="53.5"/><rect class="h" width="222.5" height="29.5"/><text class="n" x="7" y="20">V_SIR_RPT_SYNOP</text><text class="t r" x="215.5" y="21">[view]</text><text class="t" x="4" y="47">...</text></g>
<g id="UAC_HOMESTUDY_CASE_REFERRAL" transform="translate(1035,3888)"><rect class="b" width="375" height="77.5"/><rect class="h" width="375" height="29.5"/><path class="l" d="M0 53.5H375M145.5 53.5V77.5M300 53.5V77.5"/><text class="n" x="7" y="20">UAC_HOMESTUDY_CASE_REFERRAL</text><text class="t r" x="368" y="21">[table]</text><text class="t" x="4" y="47">...</text><text class="t" x="4" y="71">&lt; 4</text><text class="t r" x="296" y="71">16,303 rows</text></g>
<g id="V_SIR_RPT_ALL_FIELDS" transform="translate(1600,3931)"><rect class="b" width="264" height="53.5"/><rect class="h" width="264" height="29.5"/><text class="n" x="7" y="20">V_SIR_RPT_ALL_FIELDS</text><text class="t r" x="257" y="21">[view]</text><text class="t" x="4" y="47">...</text></g>
<g id="PRS_CNRE_DOCUMENT" transform="translate(1600,4012)"><rect class="b" width="265" height="77.5"/><rect class="h" width="265" height="29.5"/><path class="l" d="M0 53.5H265M104 53.5V77.5M196 53.5V77.5"/><text class="n" x="7" y="20">PRS_CNRE_DOCUMENT</text><text class="t r" x="258" y="21">[table]</text><text class="t" x="4" y="47">...</text><text class="t" x="4" y="71">&lt; 4</text><text class="t r" x="192" y="71">5 rows</text><text class="t r" x="260" y="71">1 &gt;</text></g>
<g id="UAC_IMMUNIZATION" transform="translate(1099.5,4065)"><rect class="b" width="245" height="77.5"/><rect class="h" width="245" height="29.5"/><path class="l" d="M0 53.5H245M75.5 53.5V77.5M205.5 53.5V77.5"/><text class="n" x="7" y="20">UAC_IMMUNIZATION</text><text class="t r" x="238" y="21">[table]</text><text class="t" x="4" y="47">...</text><text class="t" x="4" y="71">&lt; 1</text><text class="t r" x="201.5" y="71">823,852 rows</text></g>
<g id="UAC_SIR_NEW" transform="translate(1639,4117)"><rect class="b" width="186" height="77.5"/><rect class="h" width="186" height="29.5"/><path class="l" d="M0 53.5H186M45.5 53.5V77.5M161 53.5V77.5"/><text class="n" x="7" y="20">UAC_SIR_NEW</text><text class="t r" x="179" y="21">[table]</text><text class="t" x="4" y="47">...</text><text class="t" x="4" y="71">&lt; 2</text><text class="t r" x="157" y="71">389,736 rows</text></g>
<g id="UAC_INDIVIDUAL_SERVICE_PLAN" transform="translate(1047,4170.5)"><rect class="b" width="351" height="77.5"/><rect class="h" width="351" height="29.5"/><path class="l" d="M0 53.5H351M121 53.5V77.5M273 53.5V77.5"/><text class="n" x="7" y="20">UAC_INDIVIDUAL_SERVICE_PLAN</text><text class="t r" x="344" y="21">[table]</text><text class="t" x="4" y="47">...</text><text class="t" x="4" y="71">&lt; 1</text><text class="t r" x="269" y="71">783,923 rows</text><text class="t r" x="346" y="71">2 &gt;</text></g>
<g id="V_SIR_ALEXIS" transform="translate(1513.5,4223.5)">
<rect class="b" width="436.5" height="1203.5" style="stroke-width:3"/><rect class="h" width="436.5" height="31.5" style="stroke-width:3"/>
<path class="l" d="M282.5 31.5V1203.5M0 60.8H436.5M0 90.1H436.5M0 119.4H436.5M0 148.7H436.5M0 178H436.5M0 207.3H436.5M0 236.6H436.5M0 265.9H436.5M0 295.2H436.5M0 324.5H436.5M0 353.8H436.5M0 383.1H436.5M0 412.4H436.5M0 441.7H436.5M0 471H436.5M0 500.3H436.5M0 529.6H436.5M0 558.9H436.5M0 588.2H436.5M0 617.5H436.5M0 646.8H436.5M0 676.1H436.5M0 705.4H436.5M0 734.7H436.5M0 764H436.5M0 793.3H436.5M0 822.6H436.5M0 851.9H436.5M0 881.2H436.5M0 910.5H436.5M0 939.8H436.5M0 969.1H436.5M0 998.4H436.5M0 1027.7H436.5M0 1057H436.5M0 1086.3H436.5M0 1115.6H436.5M0 1144.9H436.5M0 1174.2H436.5"/>
<text class="n" x="9" y="22">V_SIR_ALEXIS</text><text class="t r" x="429" y="23">[view]</text>
<use href="#ky" x="15" y="46" fill="#bbb" stroke="#bbb"/><use href="#ky" x="15" y="75.3" fill="#bbb" stroke="#bbb"/><use href="#ky" x="15" y="485.5" fill="#bbb" stroke="#bbb"/><use href="#ky" x="15" y="1100.8" fill="#bbb" stroke="#bbb"/><use href="#ky" x="15" y="1159.4" fill="#bbb" stroke="#bbb"/><use href="#ky" x="15" y="1188.7" fill="#bbb" stroke="#bbb"/>
<text class="t" x="28" y="52">SIR_ID</text><text class="t" x="287" y="52">number[38]</text>
<text class="t" x="28" y="81.3">UAC_PROGRAM_ID</text><text class="t" x="287" y="81.3">number[38]</text>
<text class="t" x="28" y="110.6">DATE_OF_INCIDENT</text><text class="t" x="287" y="110.6">timestamp(6)[11,6]</text>
<text class="t" x="28" y="139.9">DATE_REPORTED</text><text class="t" x="287" y="139.9">timestamp(6)[11,6]</text>
<text class="t" x="28" y="169.2">ABUSE_PERPETRATOR_ID</text><text class="t" x="287" y="169.2">number[3]</text>
<text class="t" x="28" y="198.5">RUNAWAY</text><text class="t" x="287" y="198.5">number[2]</text>
<text class="t" x="28" y="227.8">RUNAWAY_RISK</text><text class="t" x="287" y="227.8">number[2]</text>
<text class="t" x="28" y="257.1">ABSENSE_OF_UAC</text><text class="t" x="287" y="257.1">number[2]</text>
<text class="t" x="28" y="286.4">DATE_CREATED</text><text class="t" x="287" y="286.4">date[7]</text>
<text class="t" x="28" y="315.7">USER_CREATED</text><text class="t" x="287" y="315.7">varchar2[112]</text>
<text class="t" x="28" y="345">DATE_REFERRED</text><text class="t" x="287" y="345">date[7]</text>
<text class="t" x="28" y="374.3">BIO_VERIFIED</text><text class="t" x="287" y="374.3">number[1]</text>
<text class="t" x="28" y="403.6">DATE_ADMITTED</text><text class="t" x="287" y="403.6">date[7]</text>
<text class="t" x="28" y="432.9">CURRENT_STATUS</text><text class="t" x="287" y="432.9">varchar2[50]</text>
<text class="t" x="28" y="462.2">DATE_DISCHARGED</text><text class="t" x="287" y="462.2">date[7]</text>
<text class="t" x="28" y="491.5">UAC_ID</text><text class="t" x="287" y="491.5">number[10]</text>
<text class="t" x="28" y="520.8">ALIEN_NO</text><text class="t" x="287" y="520.8">varchar2[10]</text>
<text class="t" x="28" y="550.1">FIRST_NAME</text><text class="t" x="287" y="550.1">varchar2[40]</text>
<text class="t" x="28" y="579.4">LAST_NAME</text><text class="t" x="287" y="579.4">varchar2[80]</text>
<text class="t" x="28" y="608.7">AKA</text><text class="t" x="287" y="608.7">varchar2[255]</text>
<text class="t" x="28" y="638">DOB</text><text class="t" x="287" y="638">date[7]</text>
<text class="t" x="28" y="667.3">COB</text><text class="t" x="287" y="667.3">varchar2[50]</text>
<text class="t" x="28" y="696.6">DATE_OF_ENTRY</text><text class="t" x="287" y="696.6">date[7]</text>
<text class="t" x="28" y="725.9">MANNER_OF_ENTRY</text><text class="t" x="287" y="725.9">varchar2[50]</text>
<text class="t" x="28" y="755.2">DATE_OF_APPREHENSION</text><text class="t" x="287" y="755.2">date[7]</text>
<text class="t" x="28" y="784.5">PREGNANCY</text><text class="t" x="287" y="784.5">number[1]</text>
<text class="t" x="28" y="813.8">INJURY</text><text class="t" x="287" y="813.8">number[1]</text>
<text class="t" x="28" y="843.1">ILLNESS</text><text class="t" x="287" y="843.1">number[1]</text>
<text class="t" x="28" y="872.4">BEHAVIOR_WO_MEDICATION</text><text class="t" x="287" y="872.4">number[1]</text>
<text class="t" x="28" y="901.7">BEHAVIOR_W_MEDICATION</text><text class="t" x="287" y="901.7">number[1]</text>
<text class="t" x="28" y="931">NOTE_BI_WO_MEDICATION</text><text class="t" x="287" y="931">varchar2[32000]</text>
<text class="t" x="28" y="960.3">NOTE_FOR_W_MEDICATION</text><text class="t" x="287" y="960.3">varchar2[32000]</text>
<text class="t" x="28" y="989.6">UAC_STATUS</text><text class="t" x="287" y="989.6">varchar2[50]</text>
<text class="t" x="28" y="1018.9">GENDER</text><text class="t" x="287" y="1018.9">varchar2[6]</text>
<text class="t" x="28" y="1048.2">PROGRAM_NAME</text><text class="t" x="287" y="1048.2">varchar2[112]</text>
<text class="t" x="28" y="1077.5">PROGRAM_TYPE</text><text class="t" x="287" y="1077.5">varchar2[112]</text>
<text class="t" x="28" y="1106.8">ABUSE_TYPE_ID</text><text class="t" x="287" y="1106.8">number[3]</text>
<text class="t" x="28" y="1136.1">MEDICAL_MENTAL_ISSUE_ID</text><text class="t" x="287" y="1136.1">number[3]</text>
<text class="t" x="28" y="1165.4">INCIDENT_TYPE_ID</text><text class="t" x="287" y="1165.4">number[3]</text>
<text class="t" x="28" y="1194.7">BEHAVIOR_ID</text><text class="t" x="287" y="1194.7">number[3]</text>
</g>
<g id="UAC_INITIAL_ASSESSMENT" transform="translate(1073,4276)"><rect class="b" width="300" height="77.5"/><rect class="h" width="300" height="29.5"/><path class="l" d="M0 53.5H300M96 53.5V77.5M235 53.5V77.5"/><text class="n" x="7" y="20">UAC_INITIAL_ASSESSMENT</text><text class="t r" x="293" y="21">[table]</text><text class="t" x="4" y="47">...</text><text class="t" x="4" y="71">&lt; 1</text><text class="t r" x="231" y="71">370,465 rows</text><text class="t r" x="295" y="71">6 &gt;</text></g>
<g id="TEMPORARY1" transform="translate(1132,4453.5)"><rect class="b" width="182" height="53.5"/><rect class="h" width="182" height="29.5"/><text class="n" x="7" y="20">TEMPORARY1</text><text class="t r" x="175" y="21">[view]</text><text class="t" x="4" y="47">...</text></g>
<g id="LIST_ABUSE_ALLEGATIONS" transform="translate(1072,4607)"><rect class="b" width="301" height="106"/><rect class="h" width="301" height="29.5"/><path class="l" d="M0 59H301M0 82.5H301M114 82.5V106M218 82.5V106"/><text class="n" x="7" y="20">LIST_ABUSE_ALLEGATIONS</text><text class="t r" x="294" y="21">[table]</text><use href="#ky" x="15" y="42" fill="#d8c800" stroke="#d8c800"/><text class="t" x="44" y="50">ABUSE_TYPE_ID</text><text class="t" x="4" y="76">...</text><text class="t r" x="214" y="100">5 rows</text><text class="t r" x="296" y="100">6 &gt;</text></g>
<g id="LIST_OTHER_INCIDENT_TYPES" transform="translate(1058,4741)"><rect class="b" width="328" height="107"/><rect class="h" width="328" height="29.5"/><path class="l" d="M0 59H328M0 83H328M128 83V107M239.5 83V107"/><text class="n" x="7" y="20">LIST_OTHER_INCIDENT_TYPES</text><text class="t r" x="321" y="21">[table]</text><use href="#ky" x="15" y="42" fill="#d8c800" stroke="#d8c800"/><text class="t" x="44" y="50">INCIDENT_TYPE_ID</text><text class="t" x="4" y="76">...</text><text class="t r" x="235.5" y="101">4 rows</text><text class="t r" x="323" y="101">6 &gt;</text></g>
<g id="LIST_UAC_BEHAVIOR" transform="translate(1099.5,4875.5)"><rect class="b" width="246.5" height="107"/><rect class="h" width="246.5" height="29.5"/><path class="l" d="M0 59H246.5M0 83H246.5M81.5 83V107M180 83V107"/><text class="n" x="7" y="20">LIST_UAC_BEHAVIOR</text><text class="t r" x="239.5" y="21">[table]</text><use href="#ky" x="15" y="42" fill="#d8c800" stroke="#d8c800"/><text class="t" x="44" y="50">BEHAVIOR_ID</text><text class="t" x="4" y="76">...</text><text class="t r" x="176" y="101">15 rows</text><text class="t r" x="241.5" y="101">6 &gt;</text></g>
<g id="UAC_POST_RELEASE_SERVICE" transform="translate(1060,5010.5)"><rect class="b" width="325" height="77.5"/><rect class="h" width="325" height="29.5"/><path class="l" d="M0 53.5H325M113 53.5V77.5M251 53.5V77.5"/><text class="n" x="7" y="20">UAC_POST_RELEASE_SERVICE</text><text class="t r" x="318" y="21">[table]</text><text class="t" x="4" y="47">...</text><text class="t" x="4" y="71">&lt; 2</text><text class="t r" x="247" y="71">55,114 rows</text><text class="t r" x="320" y="71">4 &gt;</text></g>
<g id="UAC_MEDICAL_SCREENING" transform="translate(1073,5152)"><rect class="b" width="298.5" height="77.5"/><rect class="h" width="298.5" height="29.5"/><path class="l" d="M0 53.5H298.5M103 53.5V77.5M246 53.5V77.5"/><text class="n" x="7" y="20">UAC_MEDICAL_SCREENING</text><text class="t r" x="291.5" y="21">[table]</text><text class="t" x="4" y="47">...</text><text class="t" x="4" y="71">&lt; 2</text><text class="t r" x="242" y="71">132,148 rows</text></g>
<g id="TEMP1_1" transform="translate(1153.5,5365)"><rect class="b" width="138.5" height="53.5"/><rect class="h" width="138.5" height="29.5"/><text class="n" x="7" y="20">TEMP1_1</text><text class="t r" x="131.5" y="21">[view]</text><text class="t" x="4" y="47">...</text></g>
<g id="TEMP4" transform="translate(1672,5458.5)"><rect class="b" width="120" height="53.5"/><rect class="h" width="120" height="29.5"/><text class="n" x="7" y="20">TEMP4</text><text class="t r" x="113" y="21">[view]</text><text class="t" x="4" y="47">...</text></g>
<g id="TEMP1_2" transform="translate(1153.5,5482.5)"><rect class="b" width="138.5" height="53.5"/><rect class="h" width="138.5" height="29.5"/><text class="n" x="7" y="20">TEMP1_2</text><text class="t r" x="131.5" y="21">[view]</text><text class="t" x="4" y="47">...</text></g>
<g id="V_SIR_RPT" transform="translate(1655.5,5540)"><rect class="b" width="152.5" height="53.5"/><rect class="h" width="152.5" height="29.5"/><text class="n" x="7" y="20">V_SIR_RPT</text><text class="t r" x="145.5" y="21">[view]</text><text class="t" x="4" y="47">...</text></g>
<g id="V_UAC_PROGRAM_INFO_MIR" transform="translate(1067,5599.5)"><rect class="b" width="311.5" height="53.5"/><rect class="h" width="311.5" height="29.5"/><text class="n" x="7" y="20">V_UAC_PROGRAM_INFO_MIR</text><text class="t r" x="304.5" y="21">[view]</text><text class="t" x="4" y="47">...</text></g>
<g id="V_15DAY_ENROUTE" transform="translate(1107,5717)"><rect class="b" width="232" height="53.5"/><rect class="h" width="232" height="29.5"/><text class="n" x="7" y="20">V_15DAY_ENROUTE</text><text class="t r" x="225" y="21">[view]</text><text class="t" x="4" y="47">...</text></g>
<g id="V_UAC_ENROLLMENT_RPT_DUMMY" transform="translate(1040,5798.5)"><rect class="b" width="366" height="53.5"/><rect class="h" width="366" height="29.5"/><text class="n" x="7" y="20">V_UAC_ENROLLMENT_RPT_DUMMY</text><text class="t r" x="359" y="21">[view]</text><text class="t" x="4" y="47">...</text></g>
<g id="UAC_CASE_ACTIVITY" transform="translate(1610.5,5832)"><rect class="b" width="243.5" height="77.5"/><rect class="h" width="243.5" height="29.5"/><path class="l" d="M0 53.5H243.5M101 53.5V77.5M192.5 53.5V77.5"/><text class="n" x="7" y="20">UAC_CASE_ACTIVITY</text><text class="t r" x="236.5" y="21">[table]</text><text class="t" x="4" y="47">...</text><text class="t" x="4" y="71">&lt; 4</text><text class="t r" x="188.5" y="71">0 rows</text></g>
<g id="V_UAC_ENROLLMENT_RPT" transform="translate(1079,5880)"><rect class="b" width="289" height="53.5"/><rect class="h" width="289" height="29.5"/><text class="n" x="7" y="20">V_UAC_ENROLLMENT_RPT</text><text class="t r" x="282" y="21">[view]</text><text class="t" x="4" y="47">...</text></g>
<g id="V_UAC_SPONSOR_HOUSEHOLD" transform="translate(1056,5997)"><rect class="b" width="333" height="53.5"/><rect class="h" width="333" height="29.5"/><text class="n" x="7" y="20">V_UAC_SPONSOR_HOUSEHOLD</text><text class="t r" x="326" y="21">[view]</text><text class="t" x="4" y="47">...</text></g>
<g id="V_UAC_SPONSOR_RPT" transform="translate(1094.5,6114.5)"><rect class="b" width="255.5" height="53.5"/><rect class="h" width="255.5" height="29.5"/><text class="n" x="7" y="20">V_UAC_SPONSOR_RPT</text><text class="t r" x="248.5" y="21">[view]</text><text class="t" x="4" y="47">...</text></g>
<g id="UAC_FAST" transform="translate(648,4163)"><rect class="b" width="152" height="77.5"/><rect class="h" width="152" height="29.5"/><path class="l" d="M0 53.5H152M34 53.5V77.5M119 53.5V77.5"/><text class="n" x="7" y="20">UAC_FAST</text><text class="t r" x="145" y="21">[table]</text><text class="t" x="4" y="47">...</text><text class="t" x="4" y="71">&lt; 8</text><text class="t r" x="115" y="71">2,101 rows</text><text class="t r" x="147" y="71">1 &gt;</text></g>
<g id="TEMP2" transform="translate(666,4268)"><rect class="b" width="115" height="53.5"/><rect class="h" width="115" height="29.5"/><text class="n" x="7" y="20">TEMP2</text><text class="t r" x="108" y="21">[view]</text><text class="t" x="4" y="47">...</text></g>
<g id="UAC_CHILD_LOCATION_HIST" transform="translate(575,4350)"><rect class="b" width="298" height="77.5"/><rect class="h" width="298" height="29.5"/><path class="l" d="M0 53.5H298M121 53.5V77.5M237 53.5V77.5"/><text class="n" x="7" y="20">UAC_CHILD_LOCATION_HIST</text><text class="t r" x="291" y="21">[table]</text><text class="t" x="4" y="47">...</text><text class="t" x="4" y="71">&lt; 5</text><text class="t r" x="233" y="71">390 rows</text></g>
<g id="UAC_MEDICAL_SCREENING_NOTES" transform="translate(549,4598.5)"><rect class="b" width="351" height="77.5"/><rect class="h" width="351" height="29.5"/><path class="l" d="M0 53.5H351M155.5 53.5V77.5M272 53.5V77.5"/><text class="n" x="7" y="20">UAC_MEDICAL_SCREENING_NOTES</text><text class="t r" x="344" y="21">[table]</text><text class="t" x="4" y="47">...</text><text class="t" x="4" y="71">&lt; 1</text><text class="t r" x="268" y="71">9 rows</text></g>
<g id="UAC_REFERRAL_MEDICATION_INFO" transform="translate(545,4740.5)"><rect class="b" width="357" height="77.5"/><rect class="h" width="357" height="29.5"/><path class="l" d="M0 53.5H357M158 53.5V77.5M276 53.5V77.5"/><text class="n" x="7" y="20">UAC_REFERRAL_MEDICATION_INFO</text><text class="t r" x="350" y="21">[table]</text><text class="t" x="4" y="47">...</text><text class="t" x="4" y="71">&lt; 1</text><text class="t r" x="272" y="71">0 rows</text></g>
<g id="UAC_SPONSOR_SPONSORED_UACS" transform="translate(546,4845.5)"><rect class="b" width="356" height="77.5"/><rect class="h" width="356" height="29.5"/><path class="l" d="M0 53.5H356M158.5 53.5V77.5M275.5 53.5V77.5"/><text class="n" x="7" y="20">UAC_SPONSOR_SPONSORED_UACS</text><text class="t r" x="349" y="21">[table]</text><text class="t" x="4" y="47">...</text><text class="t" x="4" y="71">&lt; 2</text><text class="t r" x="271.5" y="71">0 rows</text></g>
<g id="V_LANGUAGES" transform="translate(633,5023)"><rect class="b" width="181" height="53.5"/><rect class="h" width="181" height="29.5"/><text class="n" x="7" y="20">V_LANGUAGES</text><text class="t r" x="174" y="21">[view]</text><text class="t" x="4" y="47">...</text></g>
<g id="V_RELEASE_ANALYSIS" transform="translate(601,5104)"><rect class="b" width="245" height="53.5"/><rect class="h" width="245" height="29.5"/><text class="n" x="7" y="20">V_RELEASE_ANALYSIS</text><text class="t r" x="238" y="21">[view]</text><text class="t" x="4" y="47">...</text></g>
<g id="SPONSOR_BACKGROUND_CHECK" transform="translate(555,5221.5)"><rect class="b" width="338" height="77.5"/><rect class="h" width="338" height="29.5"/><path class="l" d="M0 53.5H338M119 53.5V77.5M277 53.5V77.5"/><text class="n" x="7" y="20">SPONSOR_BACKGROUND_CHECK</text><text class="t r" x="331" y="21">[table]</text><text class="t" x="4" y="47">...</text><text class="t" x="4" y="71">&lt; 4</text><text class="t r" x="273" y="71">1,487,157 rows</text></g>
<g id="TEMP2_1" transform="translate(657,5327)"><rect class="b" width="133" height="53.5"/><rect class="h" width="133" height="29.5"/><text class="n" x="7" y="20">TEMP2_1</text><text class="t r" x="126" y="21">[view]</text><text class="t" x="4" y="47">...</text></g>
<g id="TT_INFLUX_RPT" transform="translate(628,5408)"><rect class="b" width="191" height="77.5"/><rect class="h" width="191" height="29.5"/><path class="l" d="M0 53.5H191M66 53.5V77.5M155 53.5V77.5"/><text class="n" x="7" y="20">TT_INFLUX_RPT</text><text class="t r" x="184" y="21">[table]</text><text class="t" x="4" y="47">...</text><text class="t" x="4" y="71">&lt; 1</text><text class="t r" x="151" y="71">469 rows</text></g>
<g id="TT_UAC_INFO_NAMES_BACKUP" transform="translate(564,5513.5)"><rect class="b" width="320" height="77.5"/><rect class="h" width="320" height="29.5"/><path class="l" d="M0 53.5H320M140.5 53.5V77.5M249 53.5V77.5"/><text class="n" x="7" y="20">TT_UAC_INFO_NAMES_BACKUP</text><text class="t r" x="313" y="21">[table]</text><text class="t" x="4" y="47">...</text><text class="t" x="4" y="71">&lt; 1</text><text class="t r" x="245" y="71">0 rows</text></g>
<g id="UAC_CASE_MANAGERS" transform="translate(597,5655)"><rect class="b" width="253" height="77.5"/><rect class="h" width="253" height="29.5"/><path class="l" d="M0 53.5H253M97 53.5V77.5M202 53.5V77.5"/><text class="n" x="7" y="20">UAC_CASE_MANAGERS</text><text class="t r" x="246" y="21">[table]</text><text class="t" x="4" y="47">...</text><text class="t" x="4" y="71">&lt; 1</text><text class="t r" x="198" y="71">197 rows</text></g>
<g id="UAC_CBP_2500_FORMS" transform="translate(596,5796.5)"><rect class="b" width="256.5" height="77.5"/><rect class="h" width="256.5" height="29.5"/><path class="l" d="M0 53.5H256.5M108.5 53.5V77.5M200.5 53.5V77.5"/><text class="n" x="7" y="20">UAC_CBP_2500_FORMS</text><text class="t r" x="249.5" y="21">[table]</text><text class="t" x="4" y="47">...</text><text class="t" x="4" y="71">&lt; 1</text><text class="t r" x="196.5" y="71">0 rows</text></g>
<g id="UAC_INFO_ADDITIONAL" transform="translate(594.5,5901)"><rect class="b" width="259.5" height="77.5"/><rect class="h" width="259.5" height="29.5"/><path class="l" d="M0 53.5H259.5M110 53.5V77.5M203.5 53.5V77.5"/><text class="n" x="7" y="20">UAC_INFO_ADDITIONAL</text><text class="t r" x="252.5" y="21">[table]</text><text class="t" x="4" y="47">...</text><text class="t" x="4" y="71">&lt; 1</text><text class="t r" x="199.5" y="71">0 rows</text></g>
<g id="TEMP_3_ENR1" transform="translate(635,6186.5)"><rect class="b" width="177" height="53.5"/><rect class="h" width="177" height="29.5"/><text class="n" x="7" y="20">TEMP_3_ENR1</text><text class="t r" x="170" y="21">[view]</text><text class="t" x="4" y="47">...</text></g>
<g id="TEMP_3_ENR2" transform="translate(635,6268)"><rect class="b" width="177" height="53.5"/><rect class="h" width="177" height="29.5"/><text class="n" x="7" y="20">TEMP_3_ENR2</text><text class="t r" x="170" y="21">[view]</text><text class="t" x="4" y="47">...</text></g>
<g id="UAC_HOTLINE_ALERT" transform="translate(603,6349.5)"><rect class="b" width="240.5" height="77.5"/><rect class="h" width="240.5" height="29.5"/><path class="l" d="M0 53.5H240.5M83.5 53.5V77.5M182 53.5V77.5"/><text class="n" x="7" y="20">UAC_HOTLINE_ALERT</text><text class="t r" x="233.5" y="21">[table]</text><text class="t" x="4" y="47">...</text><text class="t" x="4" y="71">&lt; 2</text><text class="t r" x="178" y="71">336 rows</text><text class="t r" x="235.5" y="71">1 &gt;</text></g>
<g id="UAC_INFO_BAK" transform="translate(630,6455)"><rect class="b" width="188" height="77.5"/><rect class="h" width="188" height="29.5"/><path class="l" d="M0 53.5H188M50 53.5V77.5M161 53.5V77.5"/><text class="n" x="7" y="20">UAC_INFO_BAK</text><text class="t r" x="181" y="21">[table]</text><text class="t" x="4" y="47">...</text><text class="t" x="4" y="71">&lt; 2</text><text class="t r" x="157" y="71">404,688 rows</text></g>
<g id="UAC_INFO_TMP" transform="translate(629,6560)"><rect class="b" width="189" height="77.5"/><rect class="h" width="189" height="29.5"/><path class="l" d="M0 53.5H189M78 53.5V77.5M148 53.5V77.5"/><text class="n" x="7" y="20">UAC_INFO_TMP</text><text class="t r" x="182" y="21">[table]</text><text class="t" x="4" y="47">...</text><text class="t" x="4" y="71">&lt; 2</text><text class="t r" x="144" y="71">1 row</text></g>
<g id="UAC_INFO_TMP_FROMXML" transform="translate(582,6665.5)"><rect class="b" width="284.5" height="77.5"/><rect class="h" width="284.5" height="29.5"/><path class="l" d="M0 53.5H284.5M122.5 53.5V77.5M222 53.5V77.5"/><text class="n" x="7" y="20">UAC_INFO_TMP_FROMXML</text><text class="t r" x="277.5" y="21">[table]</text><text class="t" x="4" y="47">...</text><text class="t" x="4" y="71">&lt; 2</text><text class="t r" x="218" y="71">0 rows</text></g>
<g id="UAC_SPONSOR_ADDRESS_HISTORY" transform="translate(544,6770.5)"><rect class="b" width="359.5" height="77.5"/><rect class="h" width="359.5" height="29.5"/><path class="l" d="M0 53.5H359.5M150 53.5V77.5M282 53.5V77.5"/><text class="n" x="7" y="20">UAC_SPONSOR_ADDRESS_HISTORY</text><text class="t r" x="352.5" y="21">[table]</text><text class="t" x="4" y="47">...</text><text class="t" x="4" y="71">&lt; 4</text><text class="t r" x="278" y="71">107 rows</text></g>
<g id="UAC_SPONSOR_LIST" transform="translate(608.5,6876)"><rect class="b" width="231.5" height="77.5"/><rect class="h" width="231.5" height="29.5"/><path class="l" d="M0 53.5H231.5M71.5 53.5V77.5M194.5 53.5V77.5"/><text class="n" x="7" y="20">UAC_SPONSOR_LIST</text><text class="t r" x="224.5" y="21">[table]</text><text class="t" x="4" y="47">...</text><text class="t" x="4" y="71">&lt; 3</text><text class="t r" x="190.5" y="71">355,445 rows</text></g>
<g id="V_ENROLLMENT_REPORT" transform="translate(589,6981.5)"><rect class="b" width="270" height="53.5"/><rect class="h" width="270" height="29.5"/><text class="n" x="7" y="20">V_ENROLLMENT_REPORT</text><text class="t r" x="263" y="21">[view]</text><text class="t" x="4" y="47">...</text></g>
<g id="V_ENROLLMENT_REPORT_DUMMY" transform="translate(552,7062.5)"><rect class="b" width="344" height="53.5"/><rect class="h" width="344" height="29.5"/><text class="n" x="7" y="20">V_ENROLLMENT_REPORT_DUMMY</text><text class="t r" x="337" y="21">[view]</text><text class="t" x="4" y="47">...</text></g>
<g id="V_SPRTD_UAC_DATA_REFRESH_RPT" transform="translate(545,7144)"><rect class="b" width="358.5" height="53.5"/><rect class="h" width="358.5" height="29.5"/><text class="n" x="7" y="20">V_SPRTD_UAC_DATA_REFRESH_RPT</text><text class="t r" x="351.5" y="21">[view]</text><text class="t" x="4" y="47">...</text></g>
<g id="V_SPRTD_UAC_DATA_RFRSH_APP_RPT" transform="translate(533,7225.5)"><rect class="b" width="381" height="53.5"/><rect class="h" width="381" height="29.5"/><text class="n" x="7" y="20">V_SPRTD_UAC_DATA_RFRSH_APP_RPT</text><text class="t r" x="374" y="21">[view]</text><text class="t" x="4" y="47">...</text></g>
<g id="V_UAC_INACTIVE_ENROUTE" transform="translate(579.5,7307)"><rect class="b" width="288" height="53.5"/><rect class="h" width="288" height="29.5"/><text class="n" x="7" y="20">V_UAC_INACTIVE_ENROUTE</text><text class="t r" x="281" y="21">[view]</text><text class="t" x="4" y="47">...</text></g>
<g id="LIST_PROGRAMS" transform="translate(242,2330)"><rect class="b" width="301" height="77.5"/><rect class="h" width="301" height="29.5"/><path class="l" d="M0 53.5H301M100 53.5V77.5M220 53.5V77.5"/><text class="n" x="7" y="20">LIST_PROGRAMS</text><text class="t r" x="294" y="21">[table]</text><text class="t" x="4" y="47">...</text><text class="t r" x="216" y="71">485 rows</text><text class="t r" x="296" y="71">41 &gt;</text></g>
<g id="UAC_PROGRAM_INFO" transform="translate(609,2918)"><rect class="b" width="251" height="77.5"/><rect class="h" width="251" height="29.5"/><path class="l" d="M0 53.5H251M50 53.5V77.5M180 53.5V77.5"/><text class="n" x="7" y="20">UAC_PROGRAM_INFO</text><text class="t r" x="244" y="21">[table]</text><text class="t" x="4" y="47">...</text><text class="t" x="4" y="71">&lt; 3</text><text class="t r" x="176" y="71">843 rows</text><text class="t r" x="246" y="71">62 &gt;</text></g>
<g id="LIST_STATES" transform="translate(24,4770)"><rect class="b" width="218" height="77.5"/><rect class="h" width="218" height="29.5"/><path class="l" d="M0 53.5H218M40 53.5V77.5M160 53.5V77.5"/><text class="n" x="7" y="20">LIST_STATES</text><text class="t r" x="211" y="21">[table]</text><text class="t" x="4" y="47">...</text><text class="t r" x="156" y="71">53 rows</text><text class="t r" x="213" y="71">58 &gt;</text></g>
<g id="UAC_INFO" transform="translate(267,5200)"><rect class="b" width="200" height="77.5"/><rect class="h" width="200" height="29.5"/><path class="l" d="M0 53.5H200M40 53.5V77.5M150 53.5V77.5"/><text class="n" x="7" y="20">UAC_INFO</text><text class="t r" x="193" y="21">[table]</text><text class="t" x="4" y="47">...</text><text class="t" x="4" y="71">&lt; 7</text><text class="t r" x="146" y="71">1,083,435 rows</text><text class="t r" x="195" y="71">53 &gt;</text></g>
</g>
<text class="t" x="24" y="7550" style="font-size:18px">Generated by SchemaSpy</text>
</g>
</svg>
